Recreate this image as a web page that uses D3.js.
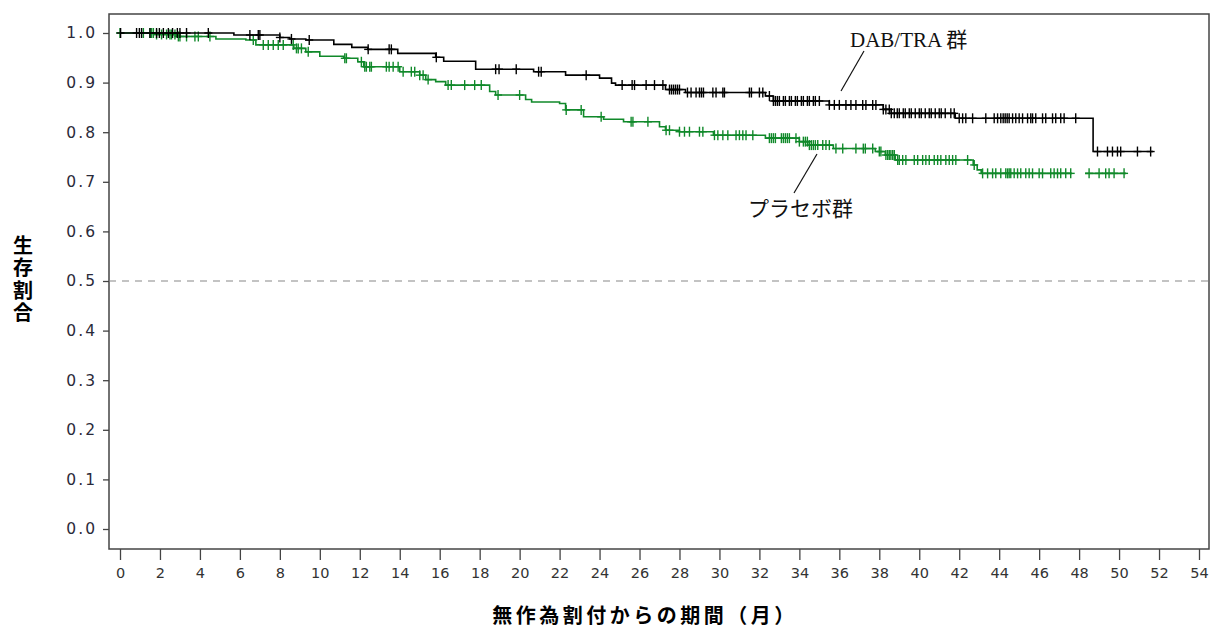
<!DOCTYPE html>
<html><head><meta charset="utf-8">
<script src="https://cdn.jsdelivr.net/npm/d3@7"></script>
<style>
html,body{margin:0;padding:0;background:#fff;}
svg{display:block;}
</style></head>
<body>
<svg id="chart" width="1211" height="630"></svg>
<script>
// ---- data ----
const xTicks = d3.range(0, 55, 2);
const yTicks = [0, 0.1, 0.2, 0.3, 0.4, 0.5, 0.6, 0.7, 0.8, 0.9, 1.0];
const xLabel = "無作為割付からの期間（月）";
const yLabel = "生存割合";
const seriesNames = ["DAB/TRA 群", "プラセボ群"];

// step drops: [time, survival after]
const dabTraSteps = [[0,1.0],[5.7,0.996],[8.0,0.991],[8.5,0.988],[9.3,0.986],[10.7,0.977],[11.6,0.971],[12.4,0.967],[13.9,0.959],[15.8,0.951],[16.2,0.943],[17.8,0.927],[20.7,0.922],[22.3,0.915],[24.0,0.909],[24.6,0.899],[24.8,0.895],[27.3,0.886],[28.3,0.880],[32.3,0.873],[32.7,0.863],[35.5,0.855],[38.2,0.846],[38.6,0.838],[41.8,0.828],[48.7,0.761]];
const dabTraEnd = 51.7;
const dabTraCensor = [0.03,0.83,0.97,1.08,1.5,1.83,1.97,2.17,2.42,2.63,2.87,3.0,3.33,4.42,6.5,6.92,7.0,8.0,8.58,9.47,12.42,13.47,13.58,15.83,18.8,18.97,19.83,20.95,21.08,23.33,25.13,25.63,25.75,26.33,26.75,27.17,27.5,27.6,27.7,27.8,27.9,28.0,28.4,28.58,28.83,29.0,29.1,29.2,29.67,29.83,30.17,30.25,31.5,31.6,32.0,32.17,32.5,32.7,32.8,32.9,33.0,33.2,33.3,33.5,33.6,33.8,33.9,34.1,34.2,34.4,34.5,34.7,34.8,35.0,35.5,35.75,36.0,36.33,36.58,36.83,37.17,37.33,37.67,37.83,38.2,38.33,38.5,38.6,38.75,38.9,39.0,39.2,39.3,39.5,39.6,39.8,40.0,40.1,40.3,40.5,40.6,40.8,41.0,41.1,41.3,41.58,41.75,42.0,42.17,42.33,42.67,43.33,43.75,43.92,44.08,44.2,44.3,44.4,44.5,44.67,44.83,45.0,45.17,45.42,45.58,45.67,45.83,46.17,46.33,46.67,46.83,47.08,47.25,47.83,48.92,49.42,49.67,49.92,50.08,50.92,51.58];

const placeboSteps = [[0,1.0],[1.7,0.997],[2.8,0.993],[4.8,0.988],[6.3,0.986],[6.8,0.976],[8.7,0.969],[9.3,0.962],[10.0,0.953],[11.2,0.949],[11.9,0.942],[12.2,0.932],[14.0,0.922],[15.0,0.915],[15.3,0.906],[15.8,0.902],[16.3,0.895],[18.5,0.882],[18.8,0.875],[20.3,0.866],[20.6,0.861],[22.0,0.858],[22.3,0.845],[23.2,0.831],[24.2,0.826],[25.2,0.821],[27.0,0.811],[27.3,0.804],[28.0,0.801],[29.7,0.794],[32.3,0.788],[34.0,0.781],[34.5,0.774],[35.7,0.767],[37.8,0.761],[38.3,0.754],[38.8,0.744],[42.7,0.734],[42.9,0.724],[43.1,0.717]];
const placeboEnd = 50.35;
const placeboLineGap = [47.65, 48.3];
const placeboCensor = [0.0,1.17,1.5,1.58,1.67,1.83,2.08,2.33,2.5,2.58,2.75,2.92,3.0,3.33,3.75,3.92,4.5,6.67,7.17,7.42,7.67,7.92,8.17,8.67,8.83,8.92,9.08,9.42,11.25,11.33,12.08,12.25,12.33,12.5,12.58,13.33,13.47,13.67,13.92,14.17,14.58,14.75,15.0,15.17,15.42,16.42,16.58,17.25,17.75,18.08,18.92,20.0,22.33,23.08,24.08,25.58,25.67,26.42,27.33,27.5,28.0,28.25,28.5,29.0,29.17,29.75,29.92,30.17,30.42,30.83,31.0,31.17,31.33,31.67,32.5,32.6,32.7,32.8,33.1,33.2,33.3,33.4,33.5,33.83,34.0,34.2,34.3,34.4,34.5,34.6,34.7,34.8,34.92,35.17,35.33,35.5,35.83,36.17,36.83,37.2,37.3,37.67,38.0,38.08,38.33,38.42,38.5,38.58,38.67,38.75,38.92,39.0,39.17,39.33,39.75,39.92,40.17,40.33,40.5,40.75,40.92,41.08,41.33,41.5,41.67,41.83,42.42,42.75,43.17,43.42,43.67,43.83,44.08,44.33,44.42,44.5,44.58,44.75,44.92,45.08,45.33,45.5,45.67,46.0,46.17,46.58,46.75,46.92,47.08,47.33,47.58,48.5,49.0,49.33,49.5,49.75,50.25];

const refLine = 0.5;

// ---- layout ----
const svg = d3.select("#chart");
const frame = {left:109, top:14, right:1209, bottom:549};
const x = d3.scaleLinear().domain([0,54]).range([120,1199]);
const y = d3.scaleLinear().domain([0,1]).range([529,33]);

const dabColor = "#000000";
const plaColor = "#10892a";

// clip for placebo line gap
const defs = svg.append("defs");
const cp = defs.append("clipPath").attr("id","plaGap");
cp.append("rect").attr("x",0).attr("y",0).attr("width",x(placeboLineGap[0])).attr("height",630);
cp.append("rect").attr("x",x(placeboLineGap[1])).attr("y",0).attr("width",1211-x(placeboLineGap[1])).attr("height",630);

// frame
svg.append("rect").attr("x",frame.left).attr("y",frame.top)
  .attr("width",frame.right-frame.left).attr("height",frame.bottom-frame.top)
  .attr("fill","none").attr("stroke","#444").attr("stroke-width",1.5);

// y axis
const yAxis = d3.axisLeft(y).tickValues(yTicks).tickFormat(d3.format(".1f")).tickSize(6).tickPadding(6);
const gy = svg.append("g").attr("transform",`translate(${frame.left},0)`).call(yAxis);
gy.select(".domain").remove();
gy.selectAll("line").attr("stroke","#444").attr("stroke-width",1.3);
gy.selectAll("text").attr("font-family","DejaVu Sans, sans-serif").attr("font-size",15.5)
  .attr("fill","#2a2a3a").attr("letter-spacing","2px");

// x axis
const xAxis = d3.axisBottom(x).tickValues(xTicks).tickFormat(d3.format("d")).tickSize(11).tickPadding(8);
const gx = svg.append("g").attr("transform",`translate(0,${frame.bottom})`).call(xAxis);
gx.select(".domain").remove();
gx.selectAll("line").attr("stroke","#444").attr("stroke-width",1.3);
gx.selectAll("text").attr("font-family","DejaVu Sans, sans-serif").attr("font-size",14.5).attr("fill","#333");

// reference line
svg.append("line").attr("x1",frame.left).attr("x2",frame.right)
  .attr("y1",y(refLine)).attr("y2",y(refLine))
  .attr("stroke","#888").attr("stroke-width",1.2).attr("stroke-dasharray","7,6");

// curves
function stepLookup(steps, t){
  const i = d3.bisectRight(steps.map(d=>d[0]), t) - 1;
  return steps[Math.max(0,i)][1];
}
const line = d3.line().x(d=>x(d[0])).y(d=>y(d[1])).curve(d3.curveStepAfter);

function drawGroup(steps, end, censor, color, clip){
  const pts = steps.concat([[end, steps[steps.length-1][1]]]);
  const p = svg.append("path").datum(pts).attr("d",line)
    .attr("fill","none").attr("stroke",color).attr("stroke-width",1.6);
  if(clip) p.attr("clip-path",`url(#${clip})`);
  const g = svg.append("g");
  censor.forEach(t=>{
    const cx = x(t), cy = y(stepLookup(steps,t));
    g.append("line").attr("x1",cx).attr("x2",cx).attr("y1",cy-5).attr("y2",cy+5)
      .attr("stroke",color).attr("stroke-width",1.4);
    g.append("line").attr("x1",cx-4).attr("x2",cx+4).attr("y1",cy).attr("y2",cy)
      .attr("stroke",color).attr("stroke-width",1.4);
  });
}
drawGroup(placeboSteps, placeboEnd, placeboCensor, plaColor, "plaGap");
drawGroup(dabTraSteps, dabTraEnd, dabTraCensor, dabColor, null);

// annotations
const annFont = "Liberation Serif, Times New Roman, Noto Sans CJK JP, serif";
svg.append("text").attr("x",850).attr("y",47).text(seriesNames[0])
  .attr("font-family",annFont).attr("font-size",21).attr("fill","#111");
svg.append("line").attr("x1",864).attr("y1",51).attr("x2",841).attr("y2",91)
  .attr("stroke","#111").attr("stroke-width",1.2);
svg.append("text").attr("x",748).attr("y",216).text(seriesNames[1])
  .attr("font-family",annFont).attr("font-size",21).attr("fill","#111");
svg.append("line").attr("x1",817).attr("y1",154).attr("x2",794).attr("y2",193)
  .attr("stroke","#111").attr("stroke-width",1.2);

// axis titles
svg.append("text").attr("x",645).attr("y",623).attr("text-anchor","middle")
  .attr("font-family","Noto Sans CJK JP, sans-serif").attr("font-weight","bold")
  .attr("font-size",20).attr("letter-spacing","3.5px").attr("fill","#000").text(xLabel);

svg.append("text").attr("x",23).attr("y",235)
  .attr("font-family","Noto Sans CJK JP, sans-serif").attr("font-weight","bold")
  .attr("font-size",20).attr("fill","#000")
  .attr("writing-mode","tb").attr("letter-spacing","2.5px")
  .style("writing-mode","vertical-rl").style("text-orientation","upright")
  .text(yLabel);
</script>
</body></html>
